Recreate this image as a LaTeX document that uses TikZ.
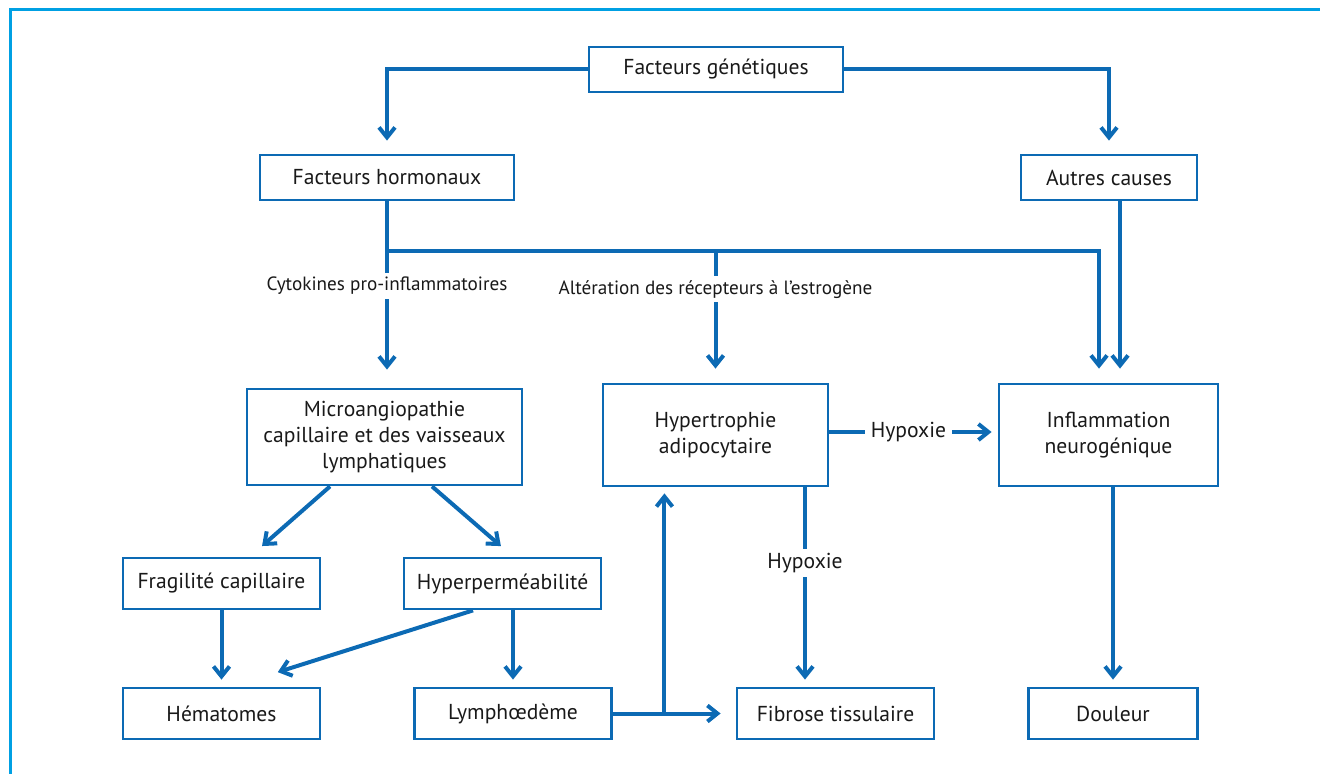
\documentclass[tikz,border=0pt]{standalone}
\usepackage{fontspec}
\setmainfont{PT Sans}
\usepackage{tikz}
\usetikzlibrary{arrows.meta,calc}
\definecolor{lipoblue}{RGB}{12,106,180}
\definecolor{framecyan}{RGB}{0,160,227}
\tikzstyle{box}=[draw=lipoblue, line width=1.4pt, align=center, inner sep=0pt, text=black!90, font=\fontsize{10.8}{13}\selectfont]
\tikzstyle{arr}=[draw=lipoblue, line width=2pt, -{Straight Barb[length=5pt,width=8pt]}]
\tikzstyle{lnk}=[draw=lipoblue, line width=2pt]
\tikzstyle{lbl}=[fill=white, inner xsep=3pt, inner ysep=2pt, text=black!90, font=\fontsize{10.8}{13}\selectfont]
\tikzstyle{sublbl}=[lbl, font=\fontsize{9.6}{11}\selectfont]
\newcommand{\boxW}{98.5pt}
\newcommand{\boxH}{25.5pt}

\begin{document}
\begin{tikzpicture}[x=0.5pt,y=-0.5pt]
\useasboundingbox (0,0) rectangle (1320,774);
\draw[framecyan, line width=1.5pt] (1320,9.5) -- (10.5,9.5) -- (10.5,774);

\node[box, minimum width=127pt, minimum height=22.5pt] (gen) at (716,69.5) {Facteurs génétiques};
\node[box, minimum width=127pt, minimum height=22.5pt] (horm) at (387,177.5) {Facteurs hormonaux};
\node[box, minimum width=88pt, minimum height=22.5pt] (autres) at (1109,177.5) {Autres causes};
\node[box, minimum width=137.5pt, minimum height=48pt] (micro) at (384.5,437) {Microangiopathie\\capillaire et des vaisseaux\\lymphatiques};
\node[box, minimum width=112.5pt, minimum height=51pt] (hyper) at (715.5,435) {Hypertrophie\\adipocytaire};
\node[box, minimum width=109.5pt, minimum height=51pt] (infl) at (1108.5,435) {Inflammation\\neurogénique};
\node[box, minimum width=\boxW, minimum height=\boxH] (frag) at (221.5,583.5) {Fragilité capillaire};
\node[box, minimum width=\boxW, minimum height=\boxH] (hperm) at (502.5,583.5) {Hyperperméabilité};
\node[box, minimum width=\boxW, minimum height=\boxH] (hema) at (221.5,713.5) {Hématomes};
\node[box, minimum width=\boxW, minimum height=\boxH] (lymph) at (513,713.5) {Lymphœdème};
\node[box, minimum width=\boxW, minimum height=\boxH] (fibr) at (835.5,713.5) {Fibrose tissulaire};
\node[box, minimum width=84.5pt, minimum height=\boxH] (doul) at (1113,713.5) {Douleur};

\coordinate (hbar) at ($(horm.south)+(0,50)$);
\coordinate (lj) at ($(lymph.east)!0.42!(fibr.west)$);

\draw[arr, shorten >=6.5pt] (gen.west) -| (horm.north);
\draw[arr, shorten >=6.5pt] (gen.east) -| (autres.north);
\draw[arr, shorten >=9pt] (horm.south) -- node[sublbl, pos=0.455] {Cytokines pro-inflammatoires} (horm.south |- micro.north);
\draw[arr, shorten >=7pt] (hbar) -| ([xshift=-4.75pt]infl.north);
\draw[arr, shorten >=7pt] ([xshift=5.5pt]autres.south) -- ([xshift=5.5pt]autres.south |- infl.north);
\draw[arr, shorten >=7pt] (hbar -| hyper.north) -- node[sublbl, pos=0.29] {Altération des récepteurs à l’estrogène} (hyper.north);
\draw[arr, shorten >=3pt] ([yshift=1.5pt]hyper.east) -- node[lbl, pos=0.47] {Hypoxie} ([yshift=1.5pt]infl.west);
\draw[arr, shorten >=3.5pt] ([xshift=44.75pt]hyper.south) -- node[lbl, pos=0.38] {Hypoxie} ([xshift=44.75pt]hyper.south |- fibr.north);
\draw[arr, shorten >=8pt] ([xshift=-27.25pt]micro.south) -- ([xshift=14.25pt]frag.north);
\draw[arr, shorten >=8pt] ([xshift=23.75pt]micro.south) -- ([xshift=5.25pt]hperm.north);
\draw[arr, shorten >=3.5pt] (frag.south) -- (hema.north);
\draw[arr, shorten >=24pt] ([xshift=-14.75pt]hperm.south) -- ([xshift=5.25pt]hema.north);
\draw[arr, shorten >=3.5pt] (hperm.south -| lymph.north) -- (lymph.north);
\draw[arr, shorten >=7.5pt] (lymph.east) -- (fibr.west);
\draw[arr, shorten >=3pt] (lj) -- (lj |- hyper.south);
\draw[arr, shorten >=3.5pt] (infl.south -| doul.north) -- (doul.north);
\end{tikzpicture}
\end{document}
